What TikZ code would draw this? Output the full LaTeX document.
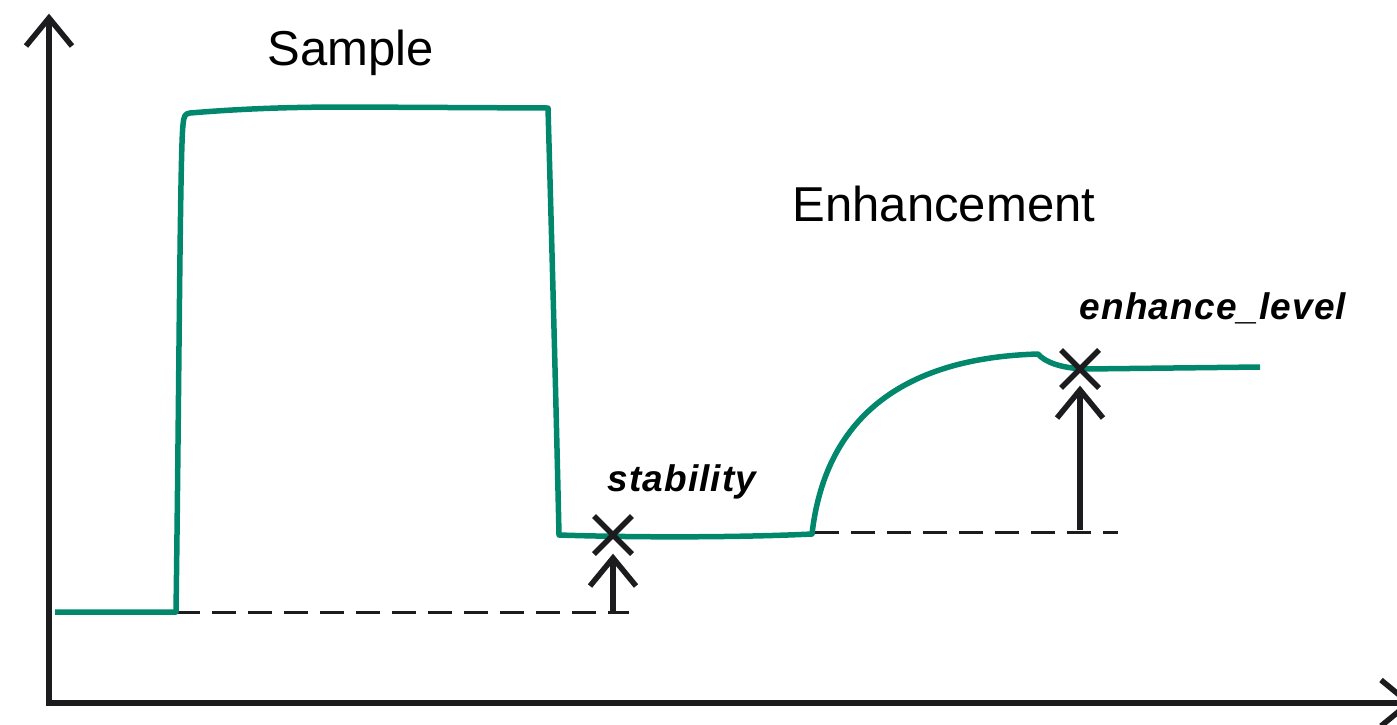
\documentclass[tikz,border=0pt]{standalone}
\usepackage{fontspec}
\setmainfont{Liberation Sans}
\newfontfamily\labfont[LetterSpace=3]{Liberation Sans}
\definecolor{curvegreen}{RGB}{0,135,108}
\definecolor{inkblack}{RGB}{28,28,30}
\begin{document}
\begin{tikzpicture}[x=1pt,y=-1pt,
  axisline/.style={draw=inkblack,line width=6pt,line join=miter},
  chevron/.style={draw=inkblack,line width=5.5pt,line join=miter},
  signal/.style={draw=curvegreen,line width=5.5pt,line join=round},
  refline/.style={draw=inkblack,line width=3pt,dash pattern=on 24pt off 12pt},
  marker/.style={draw=inkblack,line width=5.5pt},
  title/.style={font=\fontsize{49}{56}\selectfont,text=black,inner sep=0pt,anchor=base},
  label/.style={font=\labfont\bfseries\itshape\fontsize{37}{44}\selectfont,text=black,inner sep=0pt,anchor=base}]
\useasboundingbox (0,0) rectangle (1397,724);
% axes
\coordinate (ytop) at (49,18);
\coordinate (origin) at (49,703);
\coordinate (xend) at (1409,703);
\draw[axisline] (ytop) -- (origin) -- (xend);
\draw[chevron] ([shift={(-23,28)}]ytop) -- (ytop) -- ([shift={(23,28)}]ytop);
\draw[chevron] ([shift={(-28,-23)}]xend) -- (xend) -- ([shift={(-28,23)}]xend);
% reference dashed lines
\coordinate (base0) at (176,612);
\coordinate (base0end) at (629,612);
\coordinate (base1) at (815,532);
\coordinate (base1end) at (1118,532);
\draw[refline] (base0) -- (base0end);
\draw[refline] (base1) -- (base1end);
% signal curve
\coordinate (s0) at (55,612);
\coordinate (s1) at (176,612);
\coordinate (s2) at (190,113);
\coordinate (s3) at (548,108);
\coordinate (s4) at (559,535);
\coordinate (s5) at (812,534);
\coordinate (s6) at (1038,354);
\coordinate (s7) at (1085,369);
\coordinate (s8) at (1260,367);
\draw[signal] (s0) -- (s1)
  .. controls (179,400) and (180,150) .. (183,125)
  .. controls (184,115) and (185,114) .. (s2)
  .. controls (250,108) and (300,107) .. (350,107) -- (s3)
  .. controls (552,250) and (556,400) .. (s4)
  .. controls (650,538) and (750,537) .. (s5)
  .. controls (825,420) and (900,358) .. (s6)
  .. controls (1045,362) and (1060,368) .. (s7)
  -- (s8);
% stability arrow and marker
\coordinate (stabFoot) at (613,612);
\coordinate (stabTip) at (613,558);
\coordinate (stabX) at (613,535);
\draw[chevron] (stabFoot) -- (stabTip);
\draw[chevron] ([shift={(-23,28)}]stabTip) -- (stabTip) -- ([shift={(23,28)}]stabTip);
\draw[marker] ([shift={(-19,-19)}]stabX) -- ([shift={(19,19)}]stabX);
\draw[marker] ([shift={(-19,19)}]stabX) -- ([shift={(19,-19)}]stabX);
% enhance arrow and marker
\coordinate (enhFoot) at (1080,530);
\coordinate (enhTip) at (1080,390);
\coordinate (enhX) at (1080,369);
\draw[chevron] (enhFoot) -- (enhTip);
\draw[chevron] ([shift={(-23,28)}]enhTip) -- (enhTip) -- ([shift={(23,28)}]enhTip);
\draw[marker] ([shift={(-19,-19)}]enhX) -- ([shift={(19,19)}]enhX);
\draw[marker] ([shift={(-19,19)}]enhX) -- ([shift={(19,-19)}]enhX);
% texts
\node[title] (sample) at (351,65) {Sample};
\node[title] (enh) at (944,221) {Enhancement};
\node[label] (stab) at (682,491) {stability};
\node[label] (enhlev) at (1213,319) {enhance\_level};
\end{tikzpicture}
\end{document}
